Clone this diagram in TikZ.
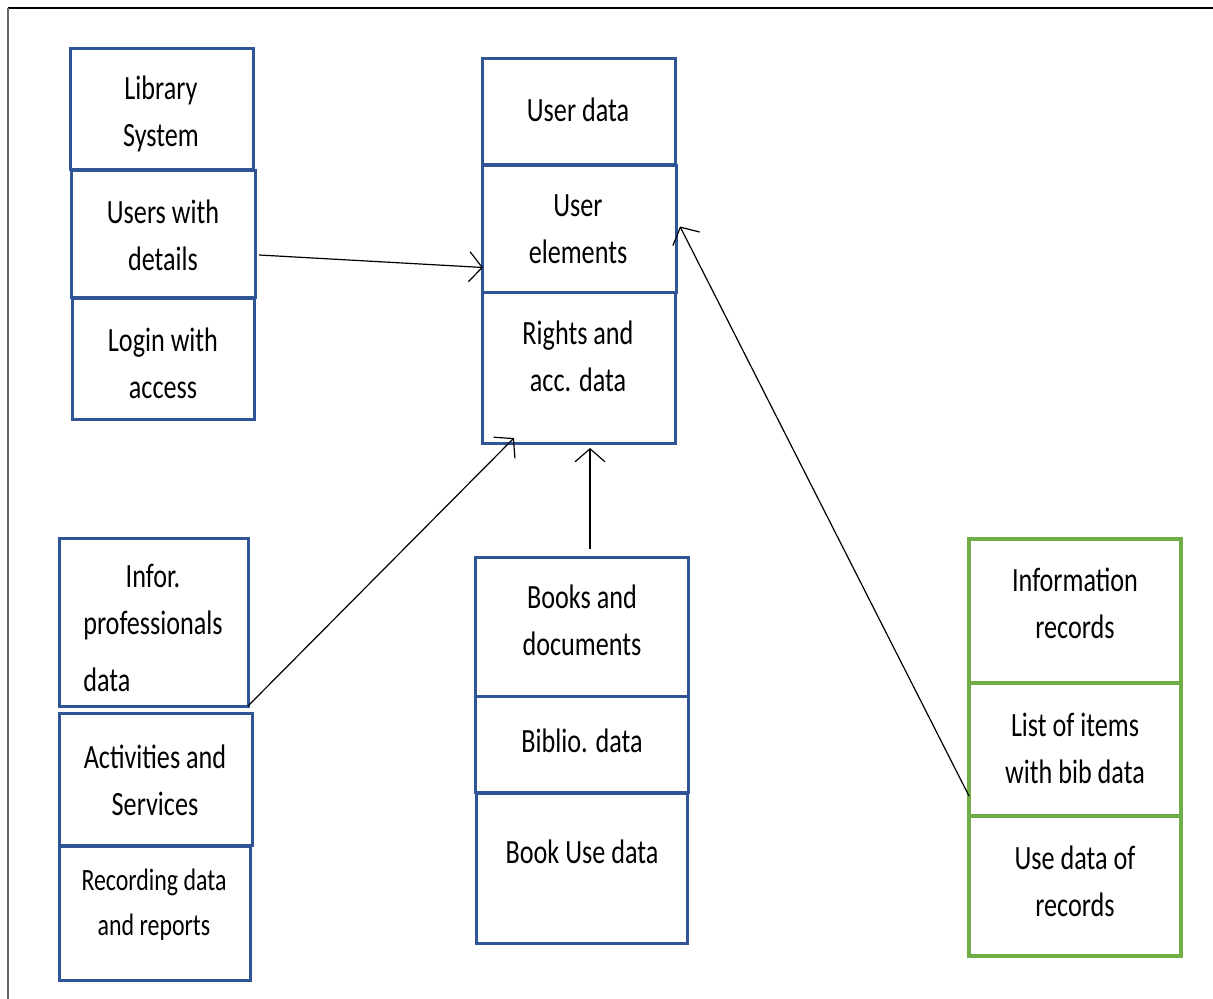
\documentclass[tikz,border=0pt]{standalone}
\usepackage{fontspec}
\setmainfont{Carlito}[FakeStretch=0.77]
\usetikzlibrary{arrows.meta,calc}
\definecolor{boxblue}{RGB}{47,85,151}
\definecolor{boxgreen}{RGB}{112,173,71}
\tikzset{
  bbox/.style={draw=boxblue,line width=1.5pt,rectangle,outer sep=0pt,inner sep=0pt},
  gbox/.style={draw=boxgreen,line width=1.7pt,rectangle,outer sep=0pt,inner sep=0pt},
  txt/.style={align=center,inner sep=0pt,font=\fontsize{17}{23.5}\selectfont},
  smalltxt/.style={align=center,inner sep=0pt,font=\fontsize{15.5}{22.5}\selectfont},
  conn/.style={draw=black,line width=0.6pt,-{Straight Barb[length=6.5pt,width=15pt,line width=0.6pt]}}
}
\begin{document}
\begin{tikzpicture}[x=0.5pt,y=-0.5pt]
\useasboundingbox (0,0) rectangle (1213,999);
\fill[white] (0,0) rectangle (1213,999);
\draw[black,line width=1.1pt] (1213,8) -- (8,8);
\draw[black!60,line width=0.8pt] (8,8) -- (8,999);

% left top column
\node[bbox,minimum width=91.5pt,minimum height=60.5pt] (lib) at (161.5,109.5) {};
\node[bbox,minimum width=92pt,minimum height=63.5pt] (users) at (163,234.5) {};
\node[bbox,minimum width=91pt,minimum height=60pt] (login) at (163,359) {};
\node[txt] (tlib) at (161,114) {Library\\System};
\node[txt] (tusers) at (163,235) {Users with\\details};
\node[txt] (tlogin) at (163,363) {Login with\\access};

% middle top column
\node[bbox,minimum width=96.5pt,minimum height=53pt] (ud) at (578.5,112) {};
\node[bbox,minimum width=97pt,minimum height=63.5pt] (ue) at (579,229.5) {};
\node[bbox,minimum width=96.5pt,minimum height=75pt] (rights) at (578.5,368) {};
\node[txt] (tud) at (578,110) {User data};
\node[txt] (tue) at (578,229) {User\\elements};
\node[txt] (trights) at (578,356) {Rights and\\acc. data};

% bottom left column
\node[bbox,minimum width=94.5pt,minimum height=84pt] (infor) at (153.5,622) {};
\node[bbox,minimum width=96.5pt,minimum height=66pt] (act) at (155.5,779) {};
\node[bbox,minimum width=95.5pt,minimum height=67pt] (rec) at (154.5,913) {};
\node[txt] (tinfor) at (153,602.5) {Infor.\\professionals};
\node[txt,anchor=west] (tdata) at (83,680) {data};
\node[txt] (tact) at (155,780) {Activities and\\Services};
\node[smalltxt] (trec) at (154,905) {Recording data\\and reports};

% bottom middle column
\node[bbox,minimum width=106.5pt,minimum height=69.5pt] (books) at (581.5,626.5) {};
\node[bbox,minimum width=106.5pt,minimum height=48pt] (biblio) at (581.5,744) {};
\node[bbox,minimum width=105.5pt,minimum height=75pt] (buse) at (581.5,868) {};
\node[txt] (tbooks) at (582,620) {Books and\\documents};
\node[txt] (tbiblio) at (582,741) {Biblio. data};
\node[txt] (tbuse) at (582,852) {Book Use data};

% right green column
\node[gbox,minimum width=106pt,minimum height=72pt] (inf) at (1075,611) {};
\node[gbox,minimum width=106pt,minimum height=66.5pt] (list) at (1075,749.5) {};
\node[gbox,minimum width=106pt,minimum height=70pt] (used) at (1075,886) {};
\node[txt] (tinf) at (1075,603) {Information\\records};
\node[txt] (tlist) at (1075,748) {List of items\\with bib data};
\node[txt] (tused) at (1075,881) {Use data of\\records};

% connectors
\draw[conn] ($(users.east)+(4,20.5)$) -- ($(ue.west)+(1,38)$);
\draw[conn] (infor.south east) -- ($(rights.south west)+(32,-5)$);
\draw[conn] ($(books.north)+(8.5,-8)$) -- ($(rights.south)+(11.5,5)$);
\draw[conn] ($(list.west)+(0,46.5)$) -- ($(ue.east)+(4,-3)$);
\end{tikzpicture}
\end{document}
